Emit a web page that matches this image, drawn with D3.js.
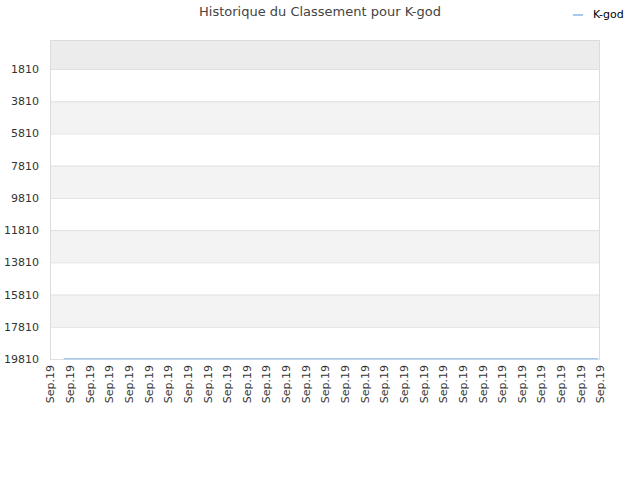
<!DOCTYPE html>
<html>
<head>
<meta charset="utf-8">
<script src="https://cdn.jsdelivr.net/npm/d3@7"></script>
<style>
  body { margin: 0; background: #fff; }
  text { font-family: "DejaVu Sans", sans-serif; }
</style>
</head>
<body>
<svg class="rankchart" width="640" height="480"></svg>
<script>
// x tick labels (one per slot)
var tickLabels = ["Sep.19","Sep.19","Sep.19","Sep.19","Sep.19","Sep.19","Sep.19","Sep.19","Sep.19","Sep.19",
                  "Sep.19","Sep.19","Sep.19","Sep.19","Sep.19","Sep.19","Sep.19","Sep.19","Sep.19","Sep.19",
                  "Sep.19","Sep.19","Sep.19","Sep.19","Sep.19","Sep.19","Sep.19","Sep.19","Sep.19"];
// position of each data point along the slots, and the rank there
var pointSlots = [0.7, 1, 2, 3, 4, 5, 6, 7, 8, 9, 10, 11, 12, 13, 14, 15, 16, 17, 18, 19, 20,
                  21, 22, 23, 24, 25, 26, 27, 27.9];
var ranks = [19800, 19800, 19800, 19800, 19800, 19800, 19800, 19800, 19800, 19800, 19800,
             19800, 19800, 19800, 19800, 19800, 19800, 19800, 19800, 19800, 19800,
             19800, 19800, 19800, 19800, 19800, 19800, 19800, 19800];
var yTicks = [1810, 3810, 5810, 7810, 9810, 11810, 13810, 15810, 17810, 19810];
var yDomain = [10, 19810];
var seriesName = "K-god";

var margin = {top: 40, right: 40, bottom: 121, left: 50},
    width = 640 - margin.left - margin.right,
    height = 480 - margin.top - margin.bottom;

var svg = d3.select("svg.rankchart");

svg.append("text")
    .attr("x", 320).attr("y", 16)
    .attr("text-anchor", "middle")
    .style("font-size", "13px")
    .style("fill", "#444")
    .text("Historique du Classement pour " + seriesName);

// legend
svg.append("line")
    .attr("x1", 573).attr("x2", 583).attr("y1", 15).attr("y2", 15)
    .attr("stroke", "#a6cbee").attr("stroke-width", 2);
svg.append("text")
    .attr("x", 593).attr("y", 18)
    .style("font-size", "11px")
    .style("fill", "#000")
    .text(seriesName);

var g = svg.append("g")
    .attr("transform", "translate(" + margin.left + "," + margin.top + ")");

var x = d3.scaleLinear().domain([0, tickLabels.length - 1]).range([0, width]);
var y = d3.scaleLinear().domain(yDomain).range([0, height]);

// alternating bands
var bandEdges = [yDomain[0]].concat(yTicks);
for (var i = 0; i < bandEdges.length - 1; i++) {
    var fill = i == 0 ? "#ececec" : (i % 2 == 0 ? "#f3f3f3" : "#ffffff");
    g.append("rect")
        .attr("x", 0)
        .attr("y", y(bandEdges[i]))
        .attr("width", width)
        .attr("height", y(bandEdges[i + 1]) - y(bandEdges[i]))
        .attr("fill", fill);
}

// grid lines
g.selectAll("line.grid")
    .data(yTicks)
    .enter()
    .append("line")
        .attr("class", "grid")
        .attr("x1", 0).attr("x2", width)
        .attr("y1", function(d) { return y(d) + 0.5; })
        .attr("y2", function(d) { return y(d) + 0.5; })
        .attr("stroke", "#e0e0e0");

// frame
g.append("path")
    .attr("d", "M0.5," + height + "V0.5H" + (width - 0.5) + "V" + height)
    .attr("fill", "none")
    .attr("stroke", "#dcdcdc");

// y axis
var yAxis = g.append("g")
    .call(d3.axisLeft(y).tickValues(yTicks).tickSize(0).tickPadding(11).tickFormat(d3.format("d")));
yAxis.select(".domain").remove();
yAxis.selectAll("text")
    .style("font-size", "11px")
    .style("fill", "#333")
    .style("font-family", "'DejaVu Sans', sans-serif");

// x axis
var xAxis = g.append("g")
    .attr("transform", "translate(0," + height + ")")
    .call(d3.axisBottom(x)
        .tickValues(d3.range(tickLabels.length))
        .tickSize(0)
        .tickFormat(function(d) { return tickLabels[d]; }));
xAxis.select(".domain").remove();
xAxis.selectAll("text")
    .attr("transform", "rotate(-90)")
    .attr("x", -6)
    .attr("y", 0)
    .attr("dy", "0.35em")
    .style("text-anchor", "end")
    .style("font-size", "11px")
    .style("fill", "#333")
    .style("font-family", "'DejaVu Sans', sans-serif");

// series line
var pts = pointSlots.map(function(s, i) { return {s: s, r: ranks[i]}; });
g.append("path")
    .datum(pts)
    .attr("fill", "none")
    .attr("stroke", "#a6cbee")
    .attr("stroke-width", 1.5)
    .attr("d", d3.line()
        .x(function(d) { return x(d.s); })
        .y(function(d) { return y(d.r); }));
</script>
</body>
</html>
